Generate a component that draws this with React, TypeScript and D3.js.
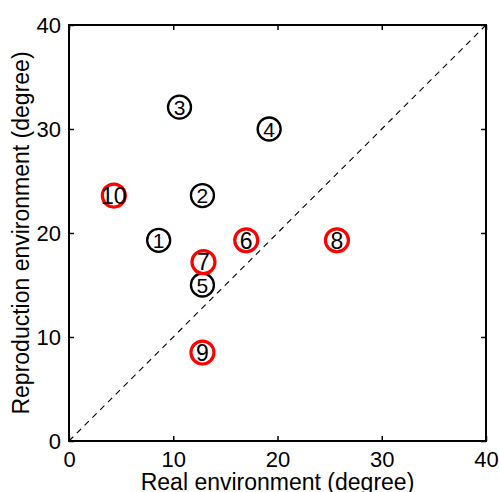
import * as d3 from 'd3';
import React, { useRef, useEffect } from 'react';

// data
const labels = ['1', '2', '3', '4', '5', '6', '7', '8', '9', '10'];
const realDeg = [8.6, 12.8, 10.6, 19.2, 12.8, 17.0, 12.9, 25.7, 12.8, 4.3];
const reproDeg = [19.3, 23.6, 32.1, 30.0, 15.0, 19.3, 17.2, 19.3, 8.5, 23.6];
const redMarked = [false, false, false, false, false, true, true, true, true, true];
const tickValues = [0, 10, 20, 30, 40];

function App() {
  const svgRef = useRef<SVGSVGElement>(null);

  useEffect(() => {
    const width = 499;
    const height = 492;
    const margin = { top: 25, right: 13, bottom: 51, left: 69 };
    const font = 'Liberation Sans, Arial, sans-serif';

    const svg = d3.select(svgRef.current);
    svg.selectAll('*').remove();
    svg.attr('width', width).attr('height', height);

    const xScale = d3
      .scaleLinear()
      .domain([0, 40])
      .range([margin.left, width - margin.right]);
    const yScale = d3
      .scaleLinear()
      .domain([0, 40])
      .range([height - margin.bottom, margin.top]);

    const x0 = xScale(0);
    const x1 = xScale(40);
    const y0 = yScale(0);
    const y1 = yScale(40);

    /* diagonal */
    svg
      .append('line')
      .attr('x1', xScale(0))
      .attr('y1', yScale(0))
      .attr('x2', xScale(40))
      .attr('y2', yScale(40))
      .attr('stroke', '#000')
      .attr('stroke-width', 1.1)
      .attr('stroke-dasharray', '6,5');

    /* axes: ticks point inward, on all four sides */
    const xAxis = d3
      .axisBottom(xScale)
      .tickValues(tickValues)
      .tickSize(-5)
      .tickPadding(10);
    const yAxis = d3
      .axisLeft(yScale)
      .tickValues(tickValues)
      .tickSize(-5)
      .tickPadding(8);

    const gx = svg
      .append('g')
      .attr('transform', `translate(0, ${y0})`)
      .call(xAxis);
    const gy = svg
      .append('g')
      .attr('transform', `translate(${x0}, 0)`)
      .call(yAxis);

    svg
      .append('g')
      .attr('transform', `translate(0, ${y1})`)
      .call(d3.axisTop(xScale).tickValues(tickValues).tickSize(-5).tickFormat(() => ''));
    svg
      .append('g')
      .attr('transform', `translate(${x1}, 0)`)
      .call(d3.axisRight(yScale).tickValues(tickValues).tickSize(-5).tickFormat(() => ''));

    svg.selectAll('.domain').remove();
    svg.selectAll('.tick line').attr('stroke', '#000').attr('stroke-width', 1.5);
    [gx, gy].forEach((g) =>
      g
        .selectAll('text')
        .attr('font-family', font)
        .attr('font-size', 22)
        .attr('fill', '#000')
    );

    /* box */
    svg
      .append('rect')
      .attr('x', x0)
      .attr('y', y1)
      .attr('width', x1 - x0)
      .attr('height', y0 - y1)
      .attr('fill', 'none')
      .attr('stroke', '#000')
      .attr('stroke-width', 2);

    /* markers */
    const pts = labels.map((l, i) => ({
      label: l,
      x: realDeg[i],
      y: reproDeg[i],
      red: redMarked[i],
    }));

    const marker = svg
      .append('g')
      .selectAll('g')
      .data(pts)
      .enter()
      .append('g')
      .attr('transform', (d) => `translate(${xScale(d.x)}, ${yScale(d.y)})`);

    marker
      .append('circle')
      .attr('r', (d) => (d.red ? 11.5 : 11.5))
      .attr('fill', 'none')
      .attr('stroke', (d) => (d.red ? '#ff0000' : '#000'))
      .attr('stroke-width', (d) => (d.red ? 3.2 : 2.3));

    marker
      .append('text')
      .attr('text-anchor', 'middle')
      .attr('dy', '0.36em')
      .attr('font-family', font)
      .attr('font-size', (d) => (d.red ? 23 : 21))
      .attr('fill', '#000')
      .text((d) => d.label);

    /* axis labels */
    svg
      .append('text')
      .attr('x', (x0 + x1) / 2)
      .attr('y', 490)
      .attr('text-anchor', 'middle')
      .attr('font-family', font)
      .attr('font-size', 23)
      .text('Real environment (degree)');

    svg
      .append('text')
      .attr('transform', `translate(29, ${(y0 + y1) / 2}) rotate(-90)`)
      .attr('text-anchor', 'middle')
      .attr('font-family', font)
      .attr('font-size', 23)
      .text('Reproduction environment (degree)');
  }, []);

  return (
    <svg
      ref={svgRef}
      style={{ position: 'absolute', left: 0, top: 0, background: '#fff' }}
    ></svg>
  );
}

export default App;
